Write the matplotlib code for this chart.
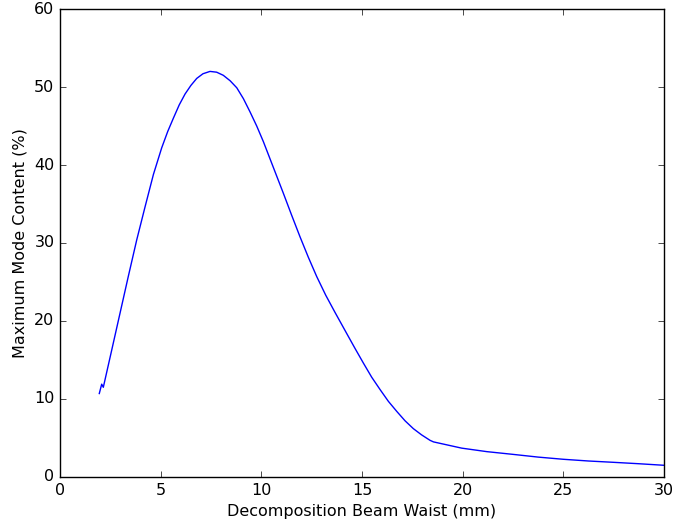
import matplotlib
matplotlib.use("Agg")
import matplotlib.pyplot as plt

# beam waist (mm) vs maximum mode content (%)
waist = [1.95, 2.07, 2.15, 2.57, 2.98, 3.39, 3.81, 4.22, 4.64, 5.05, 5.35, 5.63, 5.92,
         6.21, 6.50, 6.79, 7.10, 7.45, 7.78, 8.11, 8.45, 8.78, 9.11, 9.44, 9.77,
         10.10, 10.40, 10.70, 11.09, 11.50, 11.92, 12.33, 12.75, 13.20, 13.66,
         14.24, 14.65, 15.07, 15.48, 15.90, 16.31, 16.73, 17.14, 17.55, 17.96,
         18.38, 18.55, 19.95, 21.2, 22.5, 23.75, 25.0, 26.25, 27.5, 28.75, 30.0]
content = [10.7, 11.9, 11.5, 16.3, 21.0, 25.7, 30.4, 34.6, 38.8, 42.2, 44.3, 46.0, 47.7,
           49.1, 50.2, 51.1, 51.7, 52.0, 51.9, 51.5, 50.8, 49.9, 48.5, 46.8, 45.0,
           43.0, 41.0, 39.0, 36.4, 33.6, 30.8, 28.2, 25.7, 23.3, 21.1,
           18.4, 16.5, 14.6, 12.8, 11.2, 9.7, 8.4, 7.2, 6.2, 5.4,
           4.7, 4.5, 3.7, 3.25, 2.9, 2.55, 2.27, 2.05, 1.88, 1.7, 1.5]

plt.style.use("classic")
fig = plt.figure(figsize=(6.76, 5.27), dpi=100)
ax = fig.add_axes([0.0888, 0.0949, 0.8934, 0.888])
ax.plot(waist, content, color="b", linewidth=1.0)
ax.set_xlim(0, 30)
ax.set_ylim(0, 60)
ax.tick_params(labelsize=11.5)
ax.set_xlabel("Decomposition Beam Waist (mm)", fontsize=11.5)
ax.set_ylabel("Maximum Mode Content (%)", fontsize=11.5)
fig.savefig("out.png", dpi=100, facecolor="white")
